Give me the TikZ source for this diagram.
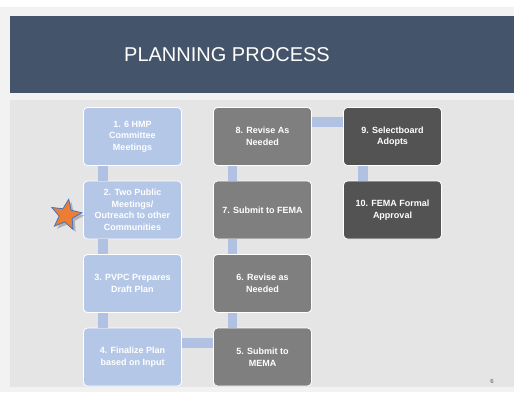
\documentclass[tikz,border=0pt]{standalone}
\usepackage{fontspec}
\setmainfont{Liberation Sans}
\usetikzlibrary{positioning,shapes.geometric,shadows}

\definecolor{banner}{HTML}{44546A}
\definecolor{pagebg}{HTML}{F2F2F2}
\definecolor{areabg}{HTML}{E5E5E5}
\definecolor{stepblue}{HTML}{B4C7E7}
\definecolor{barblue}{HTML}{B0C1E2}
\definecolor{stepgrey}{HTML}{7F7F7F}
\definecolor{stepdark}{HTML}{535353}
\definecolor{starorange}{HTML}{ED7D31}
\definecolor{starblue}{HTML}{4472C4}

\tikzset{
  stepbox/.style={rectangle,rounded corners=4pt,draw=white,line width=0.8pt,
    minimum width=98pt,minimum height=58pt,align=center,
    text=white,font=\fontsize{9}{11.5}\selectfont\bfseries},
  bar/.style={line width=9.5pt,draw=barblue}
}

\begin{document}
\begin{tikzpicture}[x=1pt,y=-1pt,node distance=73.5pt and 130pt,on grid]
    \useasboundingbox (0,0) rectangle (514,392);
    \fill[white] (0,0) rectangle (514,392);
    \fill[pagebg] (0,7) rectangle (514,392);
    \fill[banner] (10,16) rectangle (514,93);
    \fill[areabg] (10,100) rectangle (514,387);
    \node[text=white,font=\fontsize{20}{24}\selectfont] (title) at (227,55) {PLANNING PROCESS};
    % first column
    \node[stepbox,fill=stepblue] (s_1) at (132.5,136.5) {1. 6 HMP\\Committee\\Meetings};
    \node[stepbox,fill=stepblue] (s_2) [below=of s_1] {2. Two Public\\Meetings/\\Outreach to other\\Communities};
    \node[stepbox,fill=stepblue] (s_3) [below=of s_2] {3. PVPC Prepares\\Draft Plan};
    \node[stepbox,fill=stepblue] (s_4) [below=of s_3] {4. Finalize Plan\\based on Input};
    % second column
    \node[stepbox,fill=stepgrey] (s_5) [right=of s_4] {5. Submit to\\MEMA};
    \node[stepbox,fill=stepgrey] (s_6) [above=of s_5] {6. Revise as\\Needed};
    \node[stepbox,fill=stepgrey] (s_7) [above=of s_6] {7. Submit to FEMA};
    \node[stepbox,fill=stepgrey] (s_8) [above=of s_7] {8. Revise As\\Needed};
    % third column
    \node[stepbox,fill=stepdark] (s_9) [right=of s_8] {9. Selectboard\\Adopts};
    \node[stepbox,fill=stepdark] (s_10) [below=of s_9] {10. FEMA Formal\\Approval};
    % bars
    \draw[bar] ([xshift=-29.5pt]s_1.south) -- ([xshift=-29.5pt]s_2.north);
    \draw[bar] ([xshift=-29.5pt]s_2.south) -- ([xshift=-29.5pt]s_3.north);
    \draw[bar] ([xshift=-29.5pt]s_3.south) -- ([xshift=-29.5pt]s_4.north);
    \draw[bar] ([yshift=14pt]s_4.east) -- ([yshift=14pt]s_5.west);
    \draw[bar] ([xshift=-30pt]s_5.north) -- ([xshift=-30pt]s_6.south);
    \draw[bar] ([xshift=-30pt]s_6.north) -- ([xshift=-30pt]s_7.south);
    \draw[bar] ([xshift=-30pt]s_7.north) -- ([xshift=-30pt]s_8.south);
    \draw[bar] ([yshift=14.5pt]s_8.east) -- ([yshift=14.5pt]s_9.west);
    \draw[bar] ([xshift=-29.5pt]s_9.south) -- ([xshift=-29.5pt]s_10.north);
    % star marker
    \node[star,star points=5,star point ratio=2.3,minimum size=32pt,inner sep=0pt,
      rotate=-10,fill=starorange,draw=starblue,line width=0.8pt,drop shadow] (mark) at (66,215) {};
    \node[text=gray,font=\fontsize{6}{7}\selectfont\bfseries] (page) at (492,381) {6};
\end{tikzpicture}
\end{document}
